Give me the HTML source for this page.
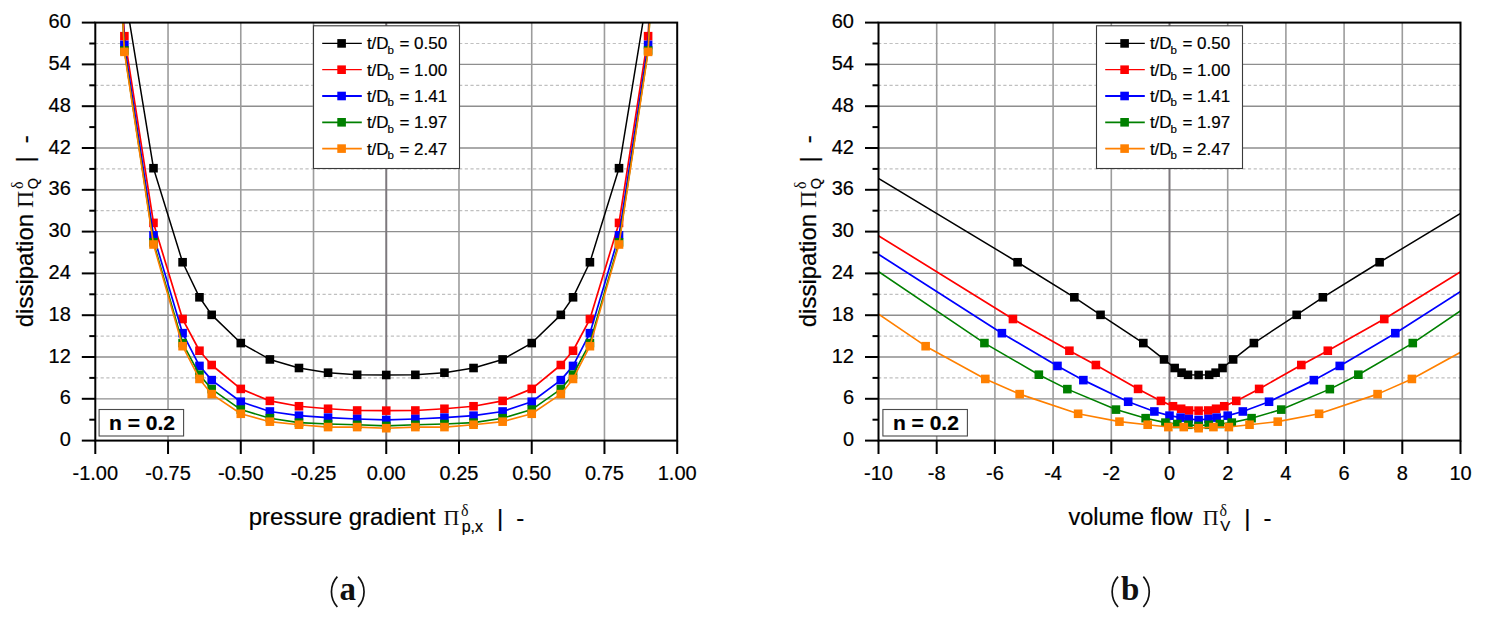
<!DOCTYPE html>
<html><head><meta charset="utf-8"><title>Dissipation charts</title><style>html,body{margin:0;padding:0;background:#fff;}body{width:1491px;height:627px;overflow:hidden;}svg{display:block;font-family:"Liberation Sans",sans-serif;}svg text{fill:#000;stroke:#000;stroke-width:0.2px;}svg text.cap,svg text.sf{stroke:none;fill:#111;}</style></head><body>
<svg width="1491" height="627" viewBox="0 0 1491 627">
<defs>
<clipPath id="ca"><rect x="95.30" y="22.60" width="581.90" height="418.00"/></clipPath>
<clipPath id="cb"><rect x="878.50" y="22.60" width="582.00" height="418.00"/></clipPath>
</defs>
<rect x="0" y="0" width="1491" height="627" fill="#ffffff"/>
<line x1="95.30" y1="377.90" x2="677.20" y2="377.90" stroke="#c0c0c0" stroke-width="1.2" stroke-dasharray="3.2 2.49" stroke-dashoffset="0.39"/>
<line x1="95.30" y1="336.10" x2="677.20" y2="336.10" stroke="#c0c0c0" stroke-width="1.2" stroke-dasharray="3.2 2.49" stroke-dashoffset="0.39"/>
<line x1="95.30" y1="294.30" x2="677.20" y2="294.30" stroke="#c0c0c0" stroke-width="1.2" stroke-dasharray="3.2 2.49" stroke-dashoffset="0.39"/>
<line x1="95.30" y1="210.70" x2="677.20" y2="210.70" stroke="#c0c0c0" stroke-width="1.2" stroke-dasharray="3.2 2.49" stroke-dashoffset="0.39"/>
<line x1="95.30" y1="168.90" x2="677.20" y2="168.90" stroke="#c0c0c0" stroke-width="1.2" stroke-dasharray="3.2 2.49" stroke-dashoffset="0.39"/>
<line x1="95.30" y1="85.30" x2="677.20" y2="85.30" stroke="#c0c0c0" stroke-width="1.2" stroke-dasharray="3.2 2.49" stroke-dashoffset="0.39"/>
<line x1="95.30" y1="43.50" x2="677.20" y2="43.50" stroke="#c0c0c0" stroke-width="1.2" stroke-dasharray="3.2 2.49" stroke-dashoffset="0.39"/>
<line x1="95.30" y1="398.80" x2="677.20" y2="398.80" stroke="#8e8e8e" stroke-width="1.35"/>
<line x1="95.30" y1="357.00" x2="677.20" y2="357.00" stroke="#8e8e8e" stroke-width="1.35"/>
<line x1="95.30" y1="315.20" x2="677.20" y2="315.20" stroke="#8e8e8e" stroke-width="1.35"/>
<line x1="95.30" y1="273.40" x2="677.20" y2="273.40" stroke="#8e8e8e" stroke-width="1.35"/>
<line x1="95.30" y1="231.60" x2="677.20" y2="231.60" stroke="#8e8e8e" stroke-width="1.35"/>
<line x1="95.30" y1="189.80" x2="677.20" y2="189.80" stroke="#8e8e8e" stroke-width="1.35"/>
<line x1="95.30" y1="148.00" x2="677.20" y2="148.00" stroke="#8e8e8e" stroke-width="1.35"/>
<line x1="95.30" y1="106.20" x2="677.20" y2="106.20" stroke="#8e8e8e" stroke-width="1.35"/>
<line x1="95.30" y1="64.40" x2="677.20" y2="64.40" stroke="#8e8e8e" stroke-width="1.35"/>
<line x1="168.04" y1="22.60" x2="168.04" y2="440.60" stroke="#9c9c9c" stroke-width="1.6"/>
<line x1="240.78" y1="22.60" x2="240.78" y2="440.60" stroke="#9c9c9c" stroke-width="1.6"/>
<line x1="313.51" y1="22.60" x2="313.51" y2="440.60" stroke="#9c9c9c" stroke-width="1.6"/>
<line x1="386.25" y1="22.60" x2="386.25" y2="440.60" stroke="#7d787d" stroke-width="2.0"/>
<line x1="458.99" y1="22.60" x2="458.99" y2="440.60" stroke="#9c9c9c" stroke-width="1.6"/>
<line x1="531.73" y1="22.60" x2="531.73" y2="440.60" stroke="#9c9c9c" stroke-width="1.6"/>
<line x1="604.46" y1="22.60" x2="604.46" y2="440.60" stroke="#9c9c9c" stroke-width="1.6"/>
<line x1="878.50" y1="377.90" x2="1460.50" y2="377.90" stroke="#c0c0c0" stroke-width="1.2" stroke-dasharray="3.2 2.49" stroke-dashoffset="0.39"/>
<line x1="878.50" y1="336.10" x2="1460.50" y2="336.10" stroke="#c0c0c0" stroke-width="1.2" stroke-dasharray="3.2 2.49" stroke-dashoffset="0.39"/>
<line x1="878.50" y1="294.30" x2="1460.50" y2="294.30" stroke="#c0c0c0" stroke-width="1.2" stroke-dasharray="3.2 2.49" stroke-dashoffset="0.39"/>
<line x1="878.50" y1="210.70" x2="1460.50" y2="210.70" stroke="#c0c0c0" stroke-width="1.2" stroke-dasharray="3.2 2.49" stroke-dashoffset="0.39"/>
<line x1="878.50" y1="168.90" x2="1460.50" y2="168.90" stroke="#c0c0c0" stroke-width="1.2" stroke-dasharray="3.2 2.49" stroke-dashoffset="0.39"/>
<line x1="878.50" y1="85.30" x2="1460.50" y2="85.30" stroke="#c0c0c0" stroke-width="1.2" stroke-dasharray="3.2 2.49" stroke-dashoffset="0.39"/>
<line x1="878.50" y1="43.50" x2="1460.50" y2="43.50" stroke="#c0c0c0" stroke-width="1.2" stroke-dasharray="3.2 2.49" stroke-dashoffset="0.39"/>
<line x1="878.50" y1="398.80" x2="1460.50" y2="398.80" stroke="#8e8e8e" stroke-width="1.35"/>
<line x1="878.50" y1="357.00" x2="1460.50" y2="357.00" stroke="#8e8e8e" stroke-width="1.35"/>
<line x1="878.50" y1="315.20" x2="1460.50" y2="315.20" stroke="#8e8e8e" stroke-width="1.35"/>
<line x1="878.50" y1="273.40" x2="1460.50" y2="273.40" stroke="#8e8e8e" stroke-width="1.35"/>
<line x1="878.50" y1="231.60" x2="1460.50" y2="231.60" stroke="#8e8e8e" stroke-width="1.35"/>
<line x1="878.50" y1="189.80" x2="1460.50" y2="189.80" stroke="#8e8e8e" stroke-width="1.35"/>
<line x1="878.50" y1="148.00" x2="1460.50" y2="148.00" stroke="#8e8e8e" stroke-width="1.35"/>
<line x1="878.50" y1="106.20" x2="1460.50" y2="106.20" stroke="#8e8e8e" stroke-width="1.35"/>
<line x1="878.50" y1="64.40" x2="1460.50" y2="64.40" stroke="#8e8e8e" stroke-width="1.35"/>
<line x1="936.70" y1="22.60" x2="936.70" y2="440.60" stroke="#9c9c9c" stroke-width="1.6"/>
<line x1="994.90" y1="22.60" x2="994.90" y2="440.60" stroke="#9c9c9c" stroke-width="1.6"/>
<line x1="1053.10" y1="22.60" x2="1053.10" y2="440.60" stroke="#9c9c9c" stroke-width="1.6"/>
<line x1="1111.30" y1="22.60" x2="1111.30" y2="440.60" stroke="#9c9c9c" stroke-width="1.6"/>
<line x1="1169.50" y1="22.60" x2="1169.50" y2="440.60" stroke="#7d787d" stroke-width="2.0"/>
<line x1="1227.70" y1="22.60" x2="1227.70" y2="440.60" stroke="#9c9c9c" stroke-width="1.6"/>
<line x1="1285.90" y1="22.60" x2="1285.90" y2="440.60" stroke="#9c9c9c" stroke-width="1.6"/>
<line x1="1344.10" y1="22.60" x2="1344.10" y2="440.60" stroke="#9c9c9c" stroke-width="1.6"/>
<line x1="1402.30" y1="22.60" x2="1402.30" y2="440.60" stroke="#9c9c9c" stroke-width="1.6"/>
<rect x="313.50" y="25.80" width="146.00" height="142.70" fill="#ffffff" stroke="#3a3a3a" stroke-width="1.1"/>
<line x1="322.20" y1="43.40" x2="361.80" y2="43.40" stroke="#000000" stroke-width="1.1"/>
<rect x="337.30" y="39.10" width="8.6" height="8.6" fill="#000000"/>
<text x="366.90" y="49.40" font-family='"Liberation Sans", sans-serif' font-size="17" fill="#111">t/D</text>
<text x="387.40" y="53.60" font-family='"Liberation Sans", sans-serif' font-size="11.5" fill="#111">b</text>
<text x="399.40" y="49.40" font-family='"Liberation Sans", sans-serif' font-size="17" fill="#111">= 0.50</text>
<line x1="322.20" y1="69.70" x2="361.80" y2="69.70" stroke="#ff0000" stroke-width="1.3"/>
<rect x="337.30" y="65.40" width="8.6" height="8.6" fill="#ff0000"/>
<text x="366.90" y="75.70" font-family='"Liberation Sans", sans-serif' font-size="17" fill="#111">t/D</text>
<text x="387.40" y="79.90" font-family='"Liberation Sans", sans-serif' font-size="11.5" fill="#111">b</text>
<text x="399.40" y="75.70" font-family='"Liberation Sans", sans-serif' font-size="17" fill="#111">= 1.00</text>
<line x1="322.20" y1="96.00" x2="361.80" y2="96.00" stroke="#0000ff" stroke-width="1.8"/>
<rect x="337.30" y="91.70" width="8.6" height="8.6" fill="#0000ff"/>
<text x="366.90" y="102.00" font-family='"Liberation Sans", sans-serif' font-size="17" fill="#111">t/D</text>
<text x="387.40" y="106.20" font-family='"Liberation Sans", sans-serif' font-size="11.5" fill="#111">b</text>
<text x="399.40" y="102.00" font-family='"Liberation Sans", sans-serif' font-size="17" fill="#111">= 1.41</text>
<line x1="322.20" y1="122.30" x2="361.80" y2="122.30" stroke="#008000" stroke-width="1.8"/>
<rect x="337.30" y="118.00" width="8.6" height="8.6" fill="#008000"/>
<text x="366.90" y="128.30" font-family='"Liberation Sans", sans-serif' font-size="17" fill="#111">t/D</text>
<text x="387.40" y="132.50" font-family='"Liberation Sans", sans-serif' font-size="11.5" fill="#111">b</text>
<text x="399.40" y="128.30" font-family='"Liberation Sans", sans-serif' font-size="17" fill="#111">= 1.97</text>
<line x1="322.20" y1="148.60" x2="361.80" y2="148.60" stroke="#ff8000" stroke-width="1.8"/>
<rect x="337.30" y="144.30" width="8.6" height="8.6" fill="#ff8000"/>
<text x="366.90" y="154.60" font-family='"Liberation Sans", sans-serif' font-size="17" fill="#111">t/D</text>
<text x="387.40" y="158.80" font-family='"Liberation Sans", sans-serif' font-size="11.5" fill="#111">b</text>
<text x="399.40" y="154.60" font-family='"Liberation Sans", sans-serif' font-size="17" fill="#111">= 2.47</text>
<rect x="1096.50" y="25.80" width="146.00" height="142.70" fill="#ffffff" stroke="#3a3a3a" stroke-width="1.1"/>
<line x1="1105.20" y1="43.40" x2="1144.80" y2="43.40" stroke="#000000" stroke-width="1.1"/>
<rect x="1120.30" y="39.10" width="8.6" height="8.6" fill="#000000"/>
<text x="1149.90" y="49.40" font-family='"Liberation Sans", sans-serif' font-size="17" fill="#111">t/D</text>
<text x="1170.40" y="53.60" font-family='"Liberation Sans", sans-serif' font-size="11.5" fill="#111">b</text>
<text x="1182.40" y="49.40" font-family='"Liberation Sans", sans-serif' font-size="17" fill="#111">= 0.50</text>
<line x1="1105.20" y1="69.70" x2="1144.80" y2="69.70" stroke="#ff0000" stroke-width="1.3"/>
<rect x="1120.30" y="65.40" width="8.6" height="8.6" fill="#ff0000"/>
<text x="1149.90" y="75.70" font-family='"Liberation Sans", sans-serif' font-size="17" fill="#111">t/D</text>
<text x="1170.40" y="79.90" font-family='"Liberation Sans", sans-serif' font-size="11.5" fill="#111">b</text>
<text x="1182.40" y="75.70" font-family='"Liberation Sans", sans-serif' font-size="17" fill="#111">= 1.00</text>
<line x1="1105.20" y1="96.00" x2="1144.80" y2="96.00" stroke="#0000ff" stroke-width="1.8"/>
<rect x="1120.30" y="91.70" width="8.6" height="8.6" fill="#0000ff"/>
<text x="1149.90" y="102.00" font-family='"Liberation Sans", sans-serif' font-size="17" fill="#111">t/D</text>
<text x="1170.40" y="106.20" font-family='"Liberation Sans", sans-serif' font-size="11.5" fill="#111">b</text>
<text x="1182.40" y="102.00" font-family='"Liberation Sans", sans-serif' font-size="17" fill="#111">= 1.41</text>
<line x1="1105.20" y1="122.30" x2="1144.80" y2="122.30" stroke="#008000" stroke-width="1.8"/>
<rect x="1120.30" y="118.00" width="8.6" height="8.6" fill="#008000"/>
<text x="1149.90" y="128.30" font-family='"Liberation Sans", sans-serif' font-size="17" fill="#111">t/D</text>
<text x="1170.40" y="132.50" font-family='"Liberation Sans", sans-serif' font-size="11.5" fill="#111">b</text>
<text x="1182.40" y="128.30" font-family='"Liberation Sans", sans-serif' font-size="17" fill="#111">= 1.97</text>
<line x1="1105.20" y1="148.60" x2="1144.80" y2="148.60" stroke="#ff8000" stroke-width="1.8"/>
<rect x="1120.30" y="144.30" width="8.6" height="8.6" fill="#ff8000"/>
<text x="1149.90" y="154.60" font-family='"Liberation Sans", sans-serif' font-size="17" fill="#111">t/D</text>
<text x="1170.40" y="158.80" font-family='"Liberation Sans", sans-serif' font-size="11.5" fill="#111">b</text>
<text x="1182.40" y="154.60" font-family='"Liberation Sans", sans-serif' font-size="17" fill="#111">= 2.47</text>
<rect x="99.10" y="409.50" width="84.5" height="26.5" fill="#ffffff" stroke="#4a4a4a" stroke-width="1.1"/>
<text x="109.10" y="429.90" font-family='"Liberation Sans", sans-serif' font-size="21" fill="#111" font-weight="bold">n = 0.2</text>
<rect x="882.90" y="409.50" width="84.5" height="26.5" fill="#ffffff" stroke="#4a4a4a" stroke-width="1.1"/>
<text x="892.90" y="429.90" font-family='"Liberation Sans", sans-serif' font-size="21" fill="#111" font-weight="bold">n = 0.2</text>
<g clip-path="url(#ca)">
<path d="M109.85,-275.92 L124.39,-9.45 L153.49,168.20 L182.59,262.25 L199.46,297.30 L211.68,314.85 L240.78,343.07 L269.87,359.44 L298.97,368.01 L328.06,372.68 L357.16,374.83 L386.25,374.97 L415.35,374.83 L444.44,372.68 L473.54,368.01 L502.63,359.44 L531.73,343.07 L560.82,314.85 L573.04,297.30 L589.92,262.25 L619.01,168.20 L648.11,-9.45 L662.65,-275.92" fill="none" stroke="#000000" stroke-width="1.5" stroke-linejoin="round"/>
<rect x="120.09" y="-13.75" width="8.6" height="8.6" fill="#000000"/>
<rect x="149.19" y="163.90" width="8.6" height="8.6" fill="#000000"/>
<rect x="178.29" y="257.95" width="8.6" height="8.6" fill="#000000"/>
<rect x="195.16" y="293.00" width="8.6" height="8.6" fill="#000000"/>
<rect x="207.38" y="310.55" width="8.6" height="8.6" fill="#000000"/>
<rect x="236.48" y="338.77" width="8.6" height="8.6" fill="#000000"/>
<rect x="265.57" y="355.14" width="8.6" height="8.6" fill="#000000"/>
<rect x="294.67" y="363.71" width="8.6" height="8.6" fill="#000000"/>
<rect x="323.76" y="368.38" width="8.6" height="8.6" fill="#000000"/>
<rect x="352.86" y="370.53" width="8.6" height="8.6" fill="#000000"/>
<rect x="381.95" y="370.67" width="8.6" height="8.6" fill="#000000"/>
<rect x="411.05" y="370.53" width="8.6" height="8.6" fill="#000000"/>
<rect x="440.14" y="368.38" width="8.6" height="8.6" fill="#000000"/>
<rect x="469.24" y="363.71" width="8.6" height="8.6" fill="#000000"/>
<rect x="498.33" y="355.14" width="8.6" height="8.6" fill="#000000"/>
<rect x="527.43" y="338.77" width="8.6" height="8.6" fill="#000000"/>
<rect x="556.52" y="310.55" width="8.6" height="8.6" fill="#000000"/>
<rect x="568.74" y="293.00" width="8.6" height="8.6" fill="#000000"/>
<rect x="585.62" y="257.95" width="8.6" height="8.6" fill="#000000"/>
<rect x="614.71" y="163.90" width="8.6" height="8.6" fill="#000000"/>
<rect x="643.81" y="-13.75" width="8.6" height="8.6" fill="#000000"/>
<path d="M109.85,-243.88 L124.39,36.19 L153.49,222.89 L182.59,319.03 L199.46,350.73 L211.68,365.01 L240.78,388.91 L269.87,400.89 L298.97,406.25 L328.06,408.76 L357.16,410.50 L386.25,410.64 L415.35,410.50 L444.44,408.76 L473.54,406.25 L502.63,400.89 L531.73,388.91 L560.82,365.01 L573.04,350.73 L589.92,319.03 L619.01,222.89 L648.11,36.19 L662.65,-243.88" fill="none" stroke="#ff0000" stroke-width="1.7" stroke-linejoin="round"/>
<rect x="120.09" y="31.89" width="8.6" height="8.6" fill="#ff0000"/>
<rect x="149.19" y="218.59" width="8.6" height="8.6" fill="#ff0000"/>
<rect x="178.29" y="314.73" width="8.6" height="8.6" fill="#ff0000"/>
<rect x="195.16" y="346.43" width="8.6" height="8.6" fill="#ff0000"/>
<rect x="207.38" y="360.71" width="8.6" height="8.6" fill="#ff0000"/>
<rect x="236.48" y="384.61" width="8.6" height="8.6" fill="#ff0000"/>
<rect x="265.57" y="396.59" width="8.6" height="8.6" fill="#ff0000"/>
<rect x="294.67" y="401.95" width="8.6" height="8.6" fill="#ff0000"/>
<rect x="323.76" y="404.46" width="8.6" height="8.6" fill="#ff0000"/>
<rect x="352.86" y="406.20" width="8.6" height="8.6" fill="#ff0000"/>
<rect x="381.95" y="406.34" width="8.6" height="8.6" fill="#ff0000"/>
<rect x="411.05" y="406.20" width="8.6" height="8.6" fill="#ff0000"/>
<rect x="440.14" y="404.46" width="8.6" height="8.6" fill="#ff0000"/>
<rect x="469.24" y="401.95" width="8.6" height="8.6" fill="#ff0000"/>
<rect x="498.33" y="396.59" width="8.6" height="8.6" fill="#ff0000"/>
<rect x="527.43" y="384.61" width="8.6" height="8.6" fill="#ff0000"/>
<rect x="556.52" y="360.71" width="8.6" height="8.6" fill="#ff0000"/>
<rect x="568.74" y="346.43" width="8.6" height="8.6" fill="#ff0000"/>
<rect x="585.62" y="314.73" width="8.6" height="8.6" fill="#ff0000"/>
<rect x="614.71" y="218.59" width="8.6" height="8.6" fill="#ff0000"/>
<rect x="643.81" y="31.89" width="8.6" height="8.6" fill="#ff0000"/>
<path d="M109.85,-240.71 L124.39,44.89 L153.49,235.29 L182.59,333.17 L199.46,365.92 L211.68,380.13 L240.78,401.73 L269.87,411.48 L298.97,415.66 L328.06,417.61 L357.16,419.00 L386.25,419.91 L415.35,419.00 L444.44,417.61 L473.54,415.66 L502.63,411.48 L531.73,401.73 L560.82,380.13 L573.04,365.92 L589.92,333.17 L619.01,235.29 L648.11,44.89 L662.65,-240.71" fill="none" stroke="#0000ff" stroke-width="1.7" stroke-linejoin="round"/>
<rect x="120.09" y="40.59" width="8.6" height="8.6" fill="#0000ff"/>
<rect x="149.19" y="230.99" width="8.6" height="8.6" fill="#0000ff"/>
<rect x="178.29" y="328.87" width="8.6" height="8.6" fill="#0000ff"/>
<rect x="195.16" y="361.62" width="8.6" height="8.6" fill="#0000ff"/>
<rect x="207.38" y="375.83" width="8.6" height="8.6" fill="#0000ff"/>
<rect x="236.48" y="397.43" width="8.6" height="8.6" fill="#0000ff"/>
<rect x="265.57" y="407.18" width="8.6" height="8.6" fill="#0000ff"/>
<rect x="294.67" y="411.36" width="8.6" height="8.6" fill="#0000ff"/>
<rect x="323.76" y="413.31" width="8.6" height="8.6" fill="#0000ff"/>
<rect x="352.86" y="414.70" width="8.6" height="8.6" fill="#0000ff"/>
<rect x="381.95" y="415.61" width="8.6" height="8.6" fill="#0000ff"/>
<rect x="411.05" y="414.70" width="8.6" height="8.6" fill="#0000ff"/>
<rect x="440.14" y="413.31" width="8.6" height="8.6" fill="#0000ff"/>
<rect x="469.24" y="411.36" width="8.6" height="8.6" fill="#0000ff"/>
<rect x="498.33" y="407.18" width="8.6" height="8.6" fill="#0000ff"/>
<rect x="527.43" y="397.43" width="8.6" height="8.6" fill="#0000ff"/>
<rect x="556.52" y="375.83" width="8.6" height="8.6" fill="#0000ff"/>
<rect x="568.74" y="361.62" width="8.6" height="8.6" fill="#0000ff"/>
<rect x="585.62" y="328.87" width="8.6" height="8.6" fill="#0000ff"/>
<rect x="614.71" y="230.99" width="8.6" height="8.6" fill="#0000ff"/>
<rect x="643.81" y="40.59" width="8.6" height="8.6" fill="#0000ff"/>
<path d="M109.85,-237.33 L124.39,50.47 L153.49,242.33 L182.59,343.07 L199.46,374.70 L211.68,389.12 L240.78,409.60 L269.87,418.17 L298.97,422.63 L328.06,424.02 L357.16,424.79 L386.25,425.90 L415.35,424.79 L444.44,424.02 L473.54,422.63 L502.63,418.17 L531.73,409.60 L560.82,389.12 L573.04,374.70 L589.92,343.07 L619.01,242.33 L648.11,50.47 L662.65,-237.33" fill="none" stroke="#008000" stroke-width="1.6" stroke-linejoin="round"/>
<rect x="120.09" y="46.17" width="8.6" height="8.6" fill="#008000"/>
<rect x="149.19" y="238.03" width="8.6" height="8.6" fill="#008000"/>
<rect x="178.29" y="338.77" width="8.6" height="8.6" fill="#008000"/>
<rect x="195.16" y="370.40" width="8.6" height="8.6" fill="#008000"/>
<rect x="207.38" y="384.82" width="8.6" height="8.6" fill="#008000"/>
<rect x="236.48" y="405.30" width="8.6" height="8.6" fill="#008000"/>
<rect x="265.57" y="413.87" width="8.6" height="8.6" fill="#008000"/>
<rect x="294.67" y="418.33" width="8.6" height="8.6" fill="#008000"/>
<rect x="323.76" y="419.72" width="8.6" height="8.6" fill="#008000"/>
<rect x="352.86" y="420.49" width="8.6" height="8.6" fill="#008000"/>
<rect x="381.95" y="421.60" width="8.6" height="8.6" fill="#008000"/>
<rect x="411.05" y="420.49" width="8.6" height="8.6" fill="#008000"/>
<rect x="440.14" y="419.72" width="8.6" height="8.6" fill="#008000"/>
<rect x="469.24" y="418.33" width="8.6" height="8.6" fill="#008000"/>
<rect x="498.33" y="413.87" width="8.6" height="8.6" fill="#008000"/>
<rect x="527.43" y="405.30" width="8.6" height="8.6" fill="#008000"/>
<rect x="556.52" y="384.82" width="8.6" height="8.6" fill="#008000"/>
<rect x="568.74" y="370.40" width="8.6" height="8.6" fill="#008000"/>
<rect x="585.62" y="338.77" width="8.6" height="8.6" fill="#008000"/>
<rect x="614.71" y="238.03" width="8.6" height="8.6" fill="#008000"/>
<rect x="643.81" y="46.17" width="8.6" height="8.6" fill="#008000"/>
<path d="M109.85,-237.08 L124.39,51.86 L153.49,244.49 L182.59,346.20 L199.46,378.95 L211.68,394.13 L240.78,413.78 L269.87,421.65 L298.97,424.72 L328.06,427.08 L357.16,427.08 L386.25,428.20 L415.35,427.08 L444.44,427.08 L473.54,424.72 L502.63,421.65 L531.73,413.78 L560.82,394.13 L573.04,378.95 L589.92,346.20 L619.01,244.49 L648.11,51.86 L662.65,-237.08" fill="none" stroke="#ff8000" stroke-width="1.6" stroke-linejoin="round"/>
<rect x="120.09" y="47.56" width="8.6" height="8.6" fill="#ff8000"/>
<rect x="149.19" y="240.19" width="8.6" height="8.6" fill="#ff8000"/>
<rect x="178.29" y="341.90" width="8.6" height="8.6" fill="#ff8000"/>
<rect x="195.16" y="374.65" width="8.6" height="8.6" fill="#ff8000"/>
<rect x="207.38" y="389.83" width="8.6" height="8.6" fill="#ff8000"/>
<rect x="236.48" y="409.48" width="8.6" height="8.6" fill="#ff8000"/>
<rect x="265.57" y="417.35" width="8.6" height="8.6" fill="#ff8000"/>
<rect x="294.67" y="420.42" width="8.6" height="8.6" fill="#ff8000"/>
<rect x="323.76" y="422.78" width="8.6" height="8.6" fill="#ff8000"/>
<rect x="352.86" y="422.78" width="8.6" height="8.6" fill="#ff8000"/>
<rect x="381.95" y="423.90" width="8.6" height="8.6" fill="#ff8000"/>
<rect x="411.05" y="422.78" width="8.6" height="8.6" fill="#ff8000"/>
<rect x="440.14" y="422.78" width="8.6" height="8.6" fill="#ff8000"/>
<rect x="469.24" y="420.42" width="8.6" height="8.6" fill="#ff8000"/>
<rect x="498.33" y="417.35" width="8.6" height="8.6" fill="#ff8000"/>
<rect x="527.43" y="409.48" width="8.6" height="8.6" fill="#ff8000"/>
<rect x="556.52" y="389.83" width="8.6" height="8.6" fill="#ff8000"/>
<rect x="568.74" y="374.65" width="8.6" height="8.6" fill="#ff8000"/>
<rect x="585.62" y="341.90" width="8.6" height="8.6" fill="#ff8000"/>
<rect x="614.71" y="240.19" width="8.6" height="8.6" fill="#ff8000"/>
<rect x="643.81" y="47.56" width="8.6" height="8.6" fill="#ff8000"/>
</g>
<g clip-path="url(#cb)">
<path d="M861.62,168.20 L1017.60,262.25 L1074.34,297.30 L1100.53,314.85 L1143.31,343.07 L1164.06,359.44 L1174.65,368.01 L1181.58,372.68 L1187.98,374.83 L1198.60,374.97 L1209.22,374.83 L1215.62,372.68 L1222.55,368.01 L1233.14,359.44 L1253.89,343.07 L1296.67,314.85 L1322.86,297.30 L1379.60,262.25 L1535.58,168.20" fill="none" stroke="#000000" stroke-width="1.5" stroke-linejoin="round"/>
<rect x="857.32" y="163.90" width="8.6" height="8.6" fill="#000000"/>
<rect x="1013.30" y="257.95" width="8.6" height="8.6" fill="#000000"/>
<rect x="1070.04" y="293.00" width="8.6" height="8.6" fill="#000000"/>
<rect x="1096.23" y="310.55" width="8.6" height="8.6" fill="#000000"/>
<rect x="1139.01" y="338.77" width="8.6" height="8.6" fill="#000000"/>
<rect x="1159.76" y="355.14" width="8.6" height="8.6" fill="#000000"/>
<rect x="1170.35" y="363.71" width="8.6" height="8.6" fill="#000000"/>
<rect x="1177.28" y="368.38" width="8.6" height="8.6" fill="#000000"/>
<rect x="1183.68" y="370.53" width="8.6" height="8.6" fill="#000000"/>
<rect x="1194.30" y="370.67" width="8.6" height="8.6" fill="#000000"/>
<rect x="1204.92" y="370.53" width="8.6" height="8.6" fill="#000000"/>
<rect x="1211.32" y="368.38" width="8.6" height="8.6" fill="#000000"/>
<rect x="1218.25" y="363.71" width="8.6" height="8.6" fill="#000000"/>
<rect x="1228.84" y="355.14" width="8.6" height="8.6" fill="#000000"/>
<rect x="1249.59" y="338.77" width="8.6" height="8.6" fill="#000000"/>
<rect x="1292.37" y="310.55" width="8.6" height="8.6" fill="#000000"/>
<rect x="1318.56" y="293.00" width="8.6" height="8.6" fill="#000000"/>
<rect x="1375.30" y="257.95" width="8.6" height="8.6" fill="#000000"/>
<rect x="1531.28" y="163.90" width="8.6" height="8.6" fill="#000000"/>
<path d="M857.84,222.89 L1012.94,319.03 L1069.40,350.73 L1095.88,365.01 L1138.07,388.91 L1160.92,400.89 L1172.99,406.25 L1181.14,408.76 L1189.00,410.50 L1198.60,410.64 L1208.20,410.50 L1216.06,408.76 L1224.21,406.25 L1236.28,400.89 L1259.13,388.91 L1301.32,365.01 L1327.80,350.73 L1384.26,319.03 L1539.36,222.89" fill="none" stroke="#ff0000" stroke-width="1.7" stroke-linejoin="round"/>
<rect x="853.54" y="218.59" width="8.6" height="8.6" fill="#ff0000"/>
<rect x="1008.64" y="314.73" width="8.6" height="8.6" fill="#ff0000"/>
<rect x="1065.10" y="346.43" width="8.6" height="8.6" fill="#ff0000"/>
<rect x="1091.58" y="360.71" width="8.6" height="8.6" fill="#ff0000"/>
<rect x="1133.77" y="384.61" width="8.6" height="8.6" fill="#ff0000"/>
<rect x="1156.62" y="396.59" width="8.6" height="8.6" fill="#ff0000"/>
<rect x="1168.69" y="401.95" width="8.6" height="8.6" fill="#ff0000"/>
<rect x="1176.84" y="404.46" width="8.6" height="8.6" fill="#ff0000"/>
<rect x="1184.70" y="406.20" width="8.6" height="8.6" fill="#ff0000"/>
<rect x="1194.30" y="406.34" width="8.6" height="8.6" fill="#ff0000"/>
<rect x="1203.90" y="406.20" width="8.6" height="8.6" fill="#ff0000"/>
<rect x="1211.76" y="404.46" width="8.6" height="8.6" fill="#ff0000"/>
<rect x="1219.91" y="401.95" width="8.6" height="8.6" fill="#ff0000"/>
<rect x="1231.98" y="396.59" width="8.6" height="8.6" fill="#ff0000"/>
<rect x="1254.83" y="384.61" width="8.6" height="8.6" fill="#ff0000"/>
<rect x="1297.02" y="360.71" width="8.6" height="8.6" fill="#ff0000"/>
<rect x="1323.50" y="346.43" width="8.6" height="8.6" fill="#ff0000"/>
<rect x="1379.96" y="314.73" width="8.6" height="8.6" fill="#ff0000"/>
<rect x="1535.06" y="218.59" width="8.6" height="8.6" fill="#ff0000"/>
<path d="M848.82,235.29 L1001.88,333.17 L1057.46,365.92 L1083.36,380.13 L1128.18,401.73 L1154.37,411.48 L1169.50,415.66 L1180.56,417.61 L1188.71,419.00 L1198.60,419.91 L1208.49,419.00 L1216.64,417.61 L1227.70,415.66 L1242.83,411.48 L1269.02,401.73 L1313.84,380.13 L1339.73,365.92 L1395.32,333.17 L1548.38,235.29" fill="none" stroke="#0000ff" stroke-width="1.7" stroke-linejoin="round"/>
<rect x="844.52" y="230.99" width="8.6" height="8.6" fill="#0000ff"/>
<rect x="997.58" y="328.87" width="8.6" height="8.6" fill="#0000ff"/>
<rect x="1053.16" y="361.62" width="8.6" height="8.6" fill="#0000ff"/>
<rect x="1079.06" y="375.83" width="8.6" height="8.6" fill="#0000ff"/>
<rect x="1123.88" y="397.43" width="8.6" height="8.6" fill="#0000ff"/>
<rect x="1150.07" y="407.18" width="8.6" height="8.6" fill="#0000ff"/>
<rect x="1165.20" y="411.36" width="8.6" height="8.6" fill="#0000ff"/>
<rect x="1176.26" y="413.31" width="8.6" height="8.6" fill="#0000ff"/>
<rect x="1184.41" y="414.70" width="8.6" height="8.6" fill="#0000ff"/>
<rect x="1194.30" y="415.61" width="8.6" height="8.6" fill="#0000ff"/>
<rect x="1204.19" y="414.70" width="8.6" height="8.6" fill="#0000ff"/>
<rect x="1212.34" y="413.31" width="8.6" height="8.6" fill="#0000ff"/>
<rect x="1223.40" y="411.36" width="8.6" height="8.6" fill="#0000ff"/>
<rect x="1238.53" y="407.18" width="8.6" height="8.6" fill="#0000ff"/>
<rect x="1264.72" y="397.43" width="8.6" height="8.6" fill="#0000ff"/>
<rect x="1309.54" y="375.83" width="8.6" height="8.6" fill="#0000ff"/>
<rect x="1335.43" y="361.62" width="8.6" height="8.6" fill="#0000ff"/>
<rect x="1391.02" y="328.87" width="8.6" height="8.6" fill="#0000ff"/>
<rect x="1544.08" y="230.99" width="8.6" height="8.6" fill="#0000ff"/>
<path d="M835.14,242.33 L984.42,343.07 L1038.84,374.70 L1067.36,389.12 L1115.96,409.60 L1145.64,418.17 L1165.43,422.63 L1177.36,424.02 L1188.41,424.79 L1198.60,425.90 L1208.78,424.79 L1219.84,424.02 L1231.77,422.63 L1251.56,418.17 L1281.24,409.60 L1329.84,389.12 L1358.36,374.70 L1412.78,343.07 L1562.06,242.33" fill="none" stroke="#008000" stroke-width="1.6" stroke-linejoin="round"/>
<rect x="830.84" y="238.03" width="8.6" height="8.6" fill="#008000"/>
<rect x="980.12" y="338.77" width="8.6" height="8.6" fill="#008000"/>
<rect x="1034.54" y="370.40" width="8.6" height="8.6" fill="#008000"/>
<rect x="1063.06" y="384.82" width="8.6" height="8.6" fill="#008000"/>
<rect x="1111.66" y="405.30" width="8.6" height="8.6" fill="#008000"/>
<rect x="1141.34" y="413.87" width="8.6" height="8.6" fill="#008000"/>
<rect x="1161.13" y="418.33" width="8.6" height="8.6" fill="#008000"/>
<rect x="1173.06" y="419.72" width="8.6" height="8.6" fill="#008000"/>
<rect x="1184.12" y="420.49" width="8.6" height="8.6" fill="#008000"/>
<rect x="1194.30" y="421.60" width="8.6" height="8.6" fill="#008000"/>
<rect x="1204.48" y="420.49" width="8.6" height="8.6" fill="#008000"/>
<rect x="1215.54" y="419.72" width="8.6" height="8.6" fill="#008000"/>
<rect x="1227.47" y="418.33" width="8.6" height="8.6" fill="#008000"/>
<rect x="1247.26" y="413.87" width="8.6" height="8.6" fill="#008000"/>
<rect x="1276.94" y="405.30" width="8.6" height="8.6" fill="#008000"/>
<rect x="1325.54" y="384.82" width="8.6" height="8.6" fill="#008000"/>
<rect x="1354.06" y="370.40" width="8.6" height="8.6" fill="#008000"/>
<rect x="1408.48" y="338.77" width="8.6" height="8.6" fill="#008000"/>
<rect x="1557.76" y="238.03" width="8.6" height="8.6" fill="#008000"/>
<path d="M776.36,244.49 L925.64,346.20 L985.30,378.95 L1019.63,394.13 L1078.13,413.78 L1119.45,421.65 L1147.67,424.72 L1168.34,427.08 L1183.76,427.08 L1198.60,428.20 L1213.44,427.08 L1228.86,427.08 L1249.53,424.72 L1277.75,421.65 L1319.07,413.78 L1377.57,394.13 L1411.90,378.95 L1471.56,346.20 L1620.84,244.49" fill="none" stroke="#ff8000" stroke-width="1.6" stroke-linejoin="round"/>
<rect x="772.06" y="240.19" width="8.6" height="8.6" fill="#ff8000"/>
<rect x="921.34" y="341.90" width="8.6" height="8.6" fill="#ff8000"/>
<rect x="981.00" y="374.65" width="8.6" height="8.6" fill="#ff8000"/>
<rect x="1015.34" y="389.83" width="8.6" height="8.6" fill="#ff8000"/>
<rect x="1073.83" y="409.48" width="8.6" height="8.6" fill="#ff8000"/>
<rect x="1115.15" y="417.35" width="8.6" height="8.6" fill="#ff8000"/>
<rect x="1143.38" y="420.42" width="8.6" height="8.6" fill="#ff8000"/>
<rect x="1164.04" y="422.78" width="8.6" height="8.6" fill="#ff8000"/>
<rect x="1179.46" y="422.78" width="8.6" height="8.6" fill="#ff8000"/>
<rect x="1194.30" y="423.90" width="8.6" height="8.6" fill="#ff8000"/>
<rect x="1209.14" y="422.78" width="8.6" height="8.6" fill="#ff8000"/>
<rect x="1224.56" y="422.78" width="8.6" height="8.6" fill="#ff8000"/>
<rect x="1245.23" y="420.42" width="8.6" height="8.6" fill="#ff8000"/>
<rect x="1273.45" y="417.35" width="8.6" height="8.6" fill="#ff8000"/>
<rect x="1314.77" y="409.48" width="8.6" height="8.6" fill="#ff8000"/>
<rect x="1373.27" y="389.83" width="8.6" height="8.6" fill="#ff8000"/>
<rect x="1407.60" y="374.65" width="8.6" height="8.6" fill="#ff8000"/>
<rect x="1467.26" y="341.90" width="8.6" height="8.6" fill="#ff8000"/>
<rect x="1616.54" y="240.19" width="8.6" height="8.6" fill="#ff8000"/>
</g>
<rect x="95.30" y="22.60" width="581.90" height="418.00" fill="none" stroke="#000" stroke-width="2"/>
<line x1="81.80" y1="440.60" x2="95.30" y2="440.60" stroke="#000" stroke-width="2"/>
<line x1="89.30" y1="419.70" x2="95.30" y2="419.70" stroke="#000" stroke-width="2"/>
<line x1="81.80" y1="398.80" x2="95.30" y2="398.80" stroke="#000" stroke-width="2"/>
<line x1="89.30" y1="377.90" x2="95.30" y2="377.90" stroke="#000" stroke-width="2"/>
<line x1="81.80" y1="357.00" x2="95.30" y2="357.00" stroke="#000" stroke-width="2"/>
<line x1="89.30" y1="336.10" x2="95.30" y2="336.10" stroke="#000" stroke-width="2"/>
<line x1="81.80" y1="315.20" x2="95.30" y2="315.20" stroke="#000" stroke-width="2"/>
<line x1="89.30" y1="294.30" x2="95.30" y2="294.30" stroke="#000" stroke-width="2"/>
<line x1="81.80" y1="273.40" x2="95.30" y2="273.40" stroke="#000" stroke-width="2"/>
<line x1="89.30" y1="252.50" x2="95.30" y2="252.50" stroke="#000" stroke-width="2"/>
<line x1="81.80" y1="231.60" x2="95.30" y2="231.60" stroke="#000" stroke-width="2"/>
<line x1="89.30" y1="210.70" x2="95.30" y2="210.70" stroke="#000" stroke-width="2"/>
<line x1="81.80" y1="189.80" x2="95.30" y2="189.80" stroke="#000" stroke-width="2"/>
<line x1="89.30" y1="168.90" x2="95.30" y2="168.90" stroke="#000" stroke-width="2"/>
<line x1="81.80" y1="148.00" x2="95.30" y2="148.00" stroke="#000" stroke-width="2"/>
<line x1="89.30" y1="127.10" x2="95.30" y2="127.10" stroke="#000" stroke-width="2"/>
<line x1="81.80" y1="106.20" x2="95.30" y2="106.20" stroke="#000" stroke-width="2"/>
<line x1="89.30" y1="85.30" x2="95.30" y2="85.30" stroke="#000" stroke-width="2"/>
<line x1="81.80" y1="64.40" x2="95.30" y2="64.40" stroke="#000" stroke-width="2"/>
<line x1="89.30" y1="43.50" x2="95.30" y2="43.50" stroke="#000" stroke-width="2"/>
<line x1="81.80" y1="22.60" x2="95.30" y2="22.60" stroke="#000" stroke-width="2"/>
<text x="70.80" y="446.20" text-anchor="end" font-family='"Liberation Sans", sans-serif' font-size="20" fill="#111">0</text>
<text x="70.80" y="404.40" text-anchor="end" font-family='"Liberation Sans", sans-serif' font-size="20" fill="#111">6</text>
<text x="70.80" y="362.60" text-anchor="end" font-family='"Liberation Sans", sans-serif' font-size="20" fill="#111">12</text>
<text x="70.80" y="320.80" text-anchor="end" font-family='"Liberation Sans", sans-serif' font-size="20" fill="#111">18</text>
<text x="70.80" y="279.00" text-anchor="end" font-family='"Liberation Sans", sans-serif' font-size="20" fill="#111">24</text>
<text x="70.80" y="237.20" text-anchor="end" font-family='"Liberation Sans", sans-serif' font-size="20" fill="#111">30</text>
<text x="70.80" y="195.40" text-anchor="end" font-family='"Liberation Sans", sans-serif' font-size="20" fill="#111">36</text>
<text x="70.80" y="153.60" text-anchor="end" font-family='"Liberation Sans", sans-serif' font-size="20" fill="#111">42</text>
<text x="70.80" y="111.80" text-anchor="end" font-family='"Liberation Sans", sans-serif' font-size="20" fill="#111">48</text>
<text x="70.80" y="70.00" text-anchor="end" font-family='"Liberation Sans", sans-serif' font-size="20" fill="#111">54</text>
<text x="70.80" y="28.20" text-anchor="end" font-family='"Liberation Sans", sans-serif' font-size="20" fill="#111">60</text>
<line x1="95.30" y1="440.60" x2="95.30" y2="454.00" stroke="#000" stroke-width="2"/>
<text x="95.30" y="480.0" text-anchor="middle" font-family='"Liberation Sans", sans-serif' font-size="20" fill="#111">-1.00</text>
<line x1="168.04" y1="440.60" x2="168.04" y2="454.00" stroke="#000" stroke-width="2"/>
<text x="168.04" y="480.0" text-anchor="middle" font-family='"Liberation Sans", sans-serif' font-size="20" fill="#111">-0.75</text>
<line x1="240.78" y1="440.60" x2="240.78" y2="454.00" stroke="#000" stroke-width="2"/>
<text x="240.78" y="480.0" text-anchor="middle" font-family='"Liberation Sans", sans-serif' font-size="20" fill="#111">-0.50</text>
<line x1="313.51" y1="440.60" x2="313.51" y2="454.00" stroke="#000" stroke-width="2"/>
<text x="313.51" y="480.0" text-anchor="middle" font-family='"Liberation Sans", sans-serif' font-size="20" fill="#111">-0.25</text>
<line x1="386.25" y1="440.60" x2="386.25" y2="454.00" stroke="#000" stroke-width="2"/>
<text x="386.25" y="480.0" text-anchor="middle" font-family='"Liberation Sans", sans-serif' font-size="20" fill="#111">0.00</text>
<line x1="458.99" y1="440.60" x2="458.99" y2="454.00" stroke="#000" stroke-width="2"/>
<text x="458.99" y="480.0" text-anchor="middle" font-family='"Liberation Sans", sans-serif' font-size="20" fill="#111">0.25</text>
<line x1="531.73" y1="440.60" x2="531.73" y2="454.00" stroke="#000" stroke-width="2"/>
<text x="531.73" y="480.0" text-anchor="middle" font-family='"Liberation Sans", sans-serif' font-size="20" fill="#111">0.50</text>
<line x1="604.46" y1="440.60" x2="604.46" y2="454.00" stroke="#000" stroke-width="2"/>
<text x="604.46" y="480.0" text-anchor="middle" font-family='"Liberation Sans", sans-serif' font-size="20" fill="#111">0.75</text>
<line x1="677.20" y1="440.60" x2="677.20" y2="454.00" stroke="#000" stroke-width="2"/>
<text x="677.20" y="480.0" text-anchor="middle" font-family='"Liberation Sans", sans-serif' font-size="20" fill="#111">1.00</text>
<rect x="878.50" y="22.60" width="582.00" height="418.00" fill="none" stroke="#000" stroke-width="2"/>
<line x1="865.00" y1="440.60" x2="878.50" y2="440.60" stroke="#000" stroke-width="2"/>
<line x1="872.50" y1="419.70" x2="878.50" y2="419.70" stroke="#000" stroke-width="2"/>
<line x1="865.00" y1="398.80" x2="878.50" y2="398.80" stroke="#000" stroke-width="2"/>
<line x1="872.50" y1="377.90" x2="878.50" y2="377.90" stroke="#000" stroke-width="2"/>
<line x1="865.00" y1="357.00" x2="878.50" y2="357.00" stroke="#000" stroke-width="2"/>
<line x1="872.50" y1="336.10" x2="878.50" y2="336.10" stroke="#000" stroke-width="2"/>
<line x1="865.00" y1="315.20" x2="878.50" y2="315.20" stroke="#000" stroke-width="2"/>
<line x1="872.50" y1="294.30" x2="878.50" y2="294.30" stroke="#000" stroke-width="2"/>
<line x1="865.00" y1="273.40" x2="878.50" y2="273.40" stroke="#000" stroke-width="2"/>
<line x1="872.50" y1="252.50" x2="878.50" y2="252.50" stroke="#000" stroke-width="2"/>
<line x1="865.00" y1="231.60" x2="878.50" y2="231.60" stroke="#000" stroke-width="2"/>
<line x1="872.50" y1="210.70" x2="878.50" y2="210.70" stroke="#000" stroke-width="2"/>
<line x1="865.00" y1="189.80" x2="878.50" y2="189.80" stroke="#000" stroke-width="2"/>
<line x1="872.50" y1="168.90" x2="878.50" y2="168.90" stroke="#000" stroke-width="2"/>
<line x1="865.00" y1="148.00" x2="878.50" y2="148.00" stroke="#000" stroke-width="2"/>
<line x1="872.50" y1="127.10" x2="878.50" y2="127.10" stroke="#000" stroke-width="2"/>
<line x1="865.00" y1="106.20" x2="878.50" y2="106.20" stroke="#000" stroke-width="2"/>
<line x1="872.50" y1="85.30" x2="878.50" y2="85.30" stroke="#000" stroke-width="2"/>
<line x1="865.00" y1="64.40" x2="878.50" y2="64.40" stroke="#000" stroke-width="2"/>
<line x1="872.50" y1="43.50" x2="878.50" y2="43.50" stroke="#000" stroke-width="2"/>
<line x1="865.00" y1="22.60" x2="878.50" y2="22.60" stroke="#000" stroke-width="2"/>
<text x="854.00" y="446.20" text-anchor="end" font-family='"Liberation Sans", sans-serif' font-size="20" fill="#111">0</text>
<text x="854.00" y="404.40" text-anchor="end" font-family='"Liberation Sans", sans-serif' font-size="20" fill="#111">6</text>
<text x="854.00" y="362.60" text-anchor="end" font-family='"Liberation Sans", sans-serif' font-size="20" fill="#111">12</text>
<text x="854.00" y="320.80" text-anchor="end" font-family='"Liberation Sans", sans-serif' font-size="20" fill="#111">18</text>
<text x="854.00" y="279.00" text-anchor="end" font-family='"Liberation Sans", sans-serif' font-size="20" fill="#111">24</text>
<text x="854.00" y="237.20" text-anchor="end" font-family='"Liberation Sans", sans-serif' font-size="20" fill="#111">30</text>
<text x="854.00" y="195.40" text-anchor="end" font-family='"Liberation Sans", sans-serif' font-size="20" fill="#111">36</text>
<text x="854.00" y="153.60" text-anchor="end" font-family='"Liberation Sans", sans-serif' font-size="20" fill="#111">42</text>
<text x="854.00" y="111.80" text-anchor="end" font-family='"Liberation Sans", sans-serif' font-size="20" fill="#111">48</text>
<text x="854.00" y="70.00" text-anchor="end" font-family='"Liberation Sans", sans-serif' font-size="20" fill="#111">54</text>
<text x="854.00" y="28.20" text-anchor="end" font-family='"Liberation Sans", sans-serif' font-size="20" fill="#111">60</text>
<line x1="878.50" y1="440.60" x2="878.50" y2="454.00" stroke="#000" stroke-width="2"/>
<text x="878.50" y="480.0" text-anchor="middle" font-family='"Liberation Sans", sans-serif' font-size="20" fill="#111">-10</text>
<line x1="936.70" y1="440.60" x2="936.70" y2="454.00" stroke="#000" stroke-width="2"/>
<text x="936.70" y="480.0" text-anchor="middle" font-family='"Liberation Sans", sans-serif' font-size="20" fill="#111">-8</text>
<line x1="994.90" y1="440.60" x2="994.90" y2="454.00" stroke="#000" stroke-width="2"/>
<text x="994.90" y="480.0" text-anchor="middle" font-family='"Liberation Sans", sans-serif' font-size="20" fill="#111">-6</text>
<line x1="1053.10" y1="440.60" x2="1053.10" y2="454.00" stroke="#000" stroke-width="2"/>
<text x="1053.10" y="480.0" text-anchor="middle" font-family='"Liberation Sans", sans-serif' font-size="20" fill="#111">-4</text>
<line x1="1111.30" y1="440.60" x2="1111.30" y2="454.00" stroke="#000" stroke-width="2"/>
<text x="1111.30" y="480.0" text-anchor="middle" font-family='"Liberation Sans", sans-serif' font-size="20" fill="#111">-2</text>
<line x1="1169.50" y1="440.60" x2="1169.50" y2="454.00" stroke="#000" stroke-width="2"/>
<text x="1169.50" y="480.0" text-anchor="middle" font-family='"Liberation Sans", sans-serif' font-size="20" fill="#111">0</text>
<line x1="1227.70" y1="440.60" x2="1227.70" y2="454.00" stroke="#000" stroke-width="2"/>
<text x="1227.70" y="480.0" text-anchor="middle" font-family='"Liberation Sans", sans-serif' font-size="20" fill="#111">2</text>
<line x1="1285.90" y1="440.60" x2="1285.90" y2="454.00" stroke="#000" stroke-width="2"/>
<text x="1285.90" y="480.0" text-anchor="middle" font-family='"Liberation Sans", sans-serif' font-size="20" fill="#111">4</text>
<line x1="1344.10" y1="440.60" x2="1344.10" y2="454.00" stroke="#000" stroke-width="2"/>
<text x="1344.10" y="480.0" text-anchor="middle" font-family='"Liberation Sans", sans-serif' font-size="20" fill="#111">6</text>
<line x1="1402.30" y1="440.60" x2="1402.30" y2="454.00" stroke="#000" stroke-width="2"/>
<text x="1402.30" y="480.0" text-anchor="middle" font-family='"Liberation Sans", sans-serif' font-size="20" fill="#111">8</text>
<line x1="1460.50" y1="440.60" x2="1460.50" y2="454.00" stroke="#000" stroke-width="2"/>
<text x="1460.50" y="480.0" text-anchor="middle" font-family='"Liberation Sans", sans-serif' font-size="20" fill="#111">10</text>
<text transform="translate(32.90,327.30) rotate(-90)" font-family='"Liberation Sans", sans-serif' font-size="24" fill="#111">dissipation</text>
<text transform="translate(32.90,207.90) rotate(-90)" font-family='"Liberation Serif", serif' font-size="24" fill="#111" class="sf">&#928;</text>
<text transform="translate(22.90,188.90) rotate(-90)" font-family='"Liberation Serif", serif' font-size="16" fill="#111" class="sf">&#948;</text>
<text transform="translate(37.80,189.20) rotate(-90)" font-family='"Liberation Sans", sans-serif' font-size="14.5" fill="#111">Q</text>
<text transform="translate(33.20,162.40) rotate(-90)" font-family='"Liberation Sans", sans-serif' font-size="24" fill="#111">|</text>
<text transform="translate(32.80,143.20) rotate(-90)" font-family='"Liberation Sans", sans-serif' font-size="24" fill="#111">-</text>
<text transform="translate(816.40,327.30) rotate(-90)" font-family='"Liberation Sans", sans-serif' font-size="24" fill="#111">dissipation</text>
<text transform="translate(816.40,207.90) rotate(-90)" font-family='"Liberation Serif", serif' font-size="24" fill="#111" class="sf">&#928;</text>
<text transform="translate(806.40,188.90) rotate(-90)" font-family='"Liberation Serif", serif' font-size="16" fill="#111" class="sf">&#948;</text>
<text transform="translate(821.30,189.20) rotate(-90)" font-family='"Liberation Sans", sans-serif' font-size="14.5" fill="#111">Q</text>
<text transform="translate(816.70,162.40) rotate(-90)" font-family='"Liberation Sans", sans-serif' font-size="24" fill="#111">|</text>
<text transform="translate(816.30,143.20) rotate(-90)" font-family='"Liberation Sans", sans-serif' font-size="24" fill="#111">-</text>
<text x="248.70" y="525.30" font-family='"Liberation Sans", sans-serif' font-size="24" fill="#111">pressure gradient</text>
<text x="443.60" y="525.20" font-family='"Liberation Serif", serif' font-size="22" fill="#111" class="sf">&#928;</text>
<text x="461.00" y="515.80" font-family='"Liberation Serif", serif' font-size="16" fill="#111" class="sf">&#948;</text>
<text x="461.70" y="532.00" font-family='"Liberation Sans", sans-serif' font-size="16" fill="#111">p,x</text>
<text x="497.00" y="525.50" font-family='"Liberation Sans", sans-serif' font-size="24" fill="#111">|</text>
<text x="516.20" y="525.80" font-family='"Liberation Sans", sans-serif' font-size="24" fill="#111">-</text>
<text x="1068.40" y="525.20" font-family='"Liberation Sans", sans-serif' font-size="23.5" fill="#111">volume flow</text>
<text x="1202.80" y="525.20" font-family='"Liberation Serif", serif' font-size="22" fill="#111" class="sf">&#928;</text>
<text x="1219.60" y="515.90" font-family='"Liberation Serif", serif' font-size="16" fill="#111" class="sf">&#948;</text>
<text x="1220.20" y="531.20" font-family='"Liberation Sans", sans-serif' font-size="15" fill="#111">V</text>
<text x="1244.20" y="525.50" font-family='"Liberation Sans", sans-serif' font-size="24" fill="#111">|</text>
<text x="1263.60" y="525.80" font-family='"Liberation Sans", sans-serif' font-size="24" fill="#111">-</text>
<path d="M337.35,576.60 C329.48,585.11 329.48,598.49 337.35,607.00" fill="none" stroke="#111" stroke-width="1.7"/>
<text x="339.60" y="599.80" font-family='"Liberation Serif", serif' font-size="33" fill="#111" font-weight="bold" class="cap">a</text>
<path d="M358.05,576.60 C366.05,585.11 366.05,598.49 358.05,607.00" fill="none" stroke="#111" stroke-width="1.7"/>
<path d="M1118.05,576.60 C1110.18,585.11 1110.18,598.49 1118.05,607.00" fill="none" stroke="#111" stroke-width="1.7"/>
<text x="1121.10" y="599.80" font-family='"Liberation Serif", serif' font-size="33" fill="#111" font-weight="bold" class="cap">b</text>
<path d="M1143.35,576.60 C1151.22,585.11 1151.22,598.49 1143.35,607.00" fill="none" stroke="#111" stroke-width="1.7"/>
</svg>
</body></html>
